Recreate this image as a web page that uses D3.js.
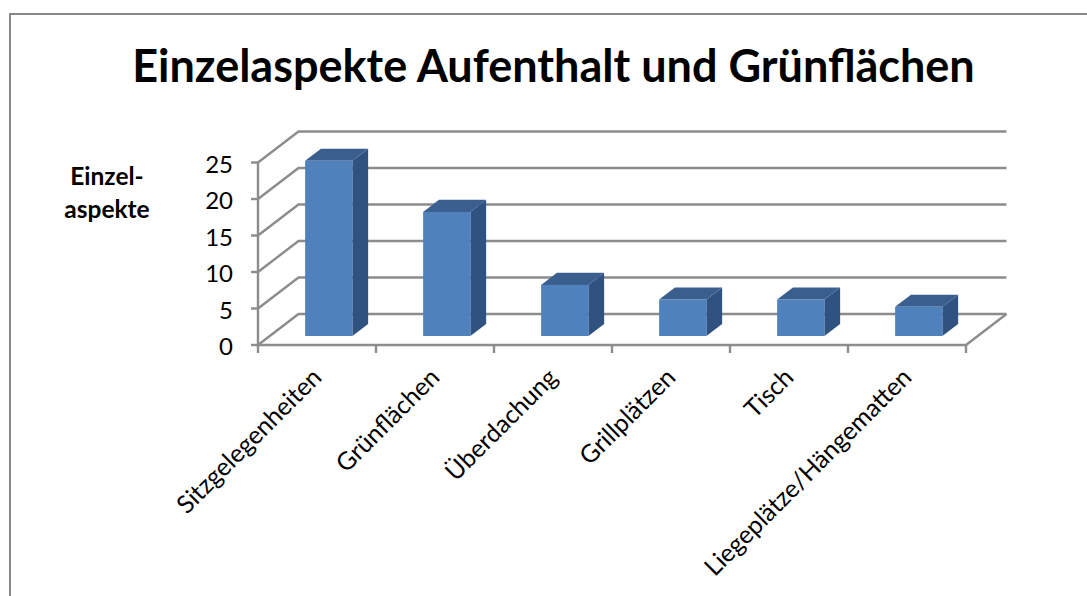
<!DOCTYPE html>
<html><head><meta charset="utf-8">
<script src="https://cdn.jsdelivr.net/npm/d3@7"></script>
<style>html,body{margin:0;padding:0;background:#fff}svg{display:block}text{font-family:Lato,"Open Sans",sans-serif}</style>
</head><body><svg id="c" width="1087" height="596"></svg>
<script>
const categories = ["Sitzgelegenheiten","Grünflächen","Überdachung","Grillplätzen","Tisch","Liegeplätze/Hängematten"];
const values = [24,17,7,5,5,4];
const yTicks = [0,5,10,15,20,25];
const titleText = "Einzelaspekte Aufenthalt und Grünflächen";
const axisTitleLines = ["Einzel-","aspekte"];

const svg = d3.select("#c");
const axisColor = "#8c8c8c";
const x = d3.scaleBand().domain(categories).range([258,966]).paddingInner(0.6).paddingOuter(0.3);
const xEdge = d3.scaleLinear().domain([0,categories.length]).range([258,966]);
const y = d3.scaleLinear().domain([0,25]).range([345,162.5]);
// depth: 0 = front of floor, 1 = back wall
const dx = d3.scaleLinear().domain([0,1]).range([0,40.5]);
const dy = d3.scaleLinear().domain([0,1]).range([0,-31]);
const barNear = 0.29, barFar = 0.68;

svg.append("path").attr("d","M10,596V14H1087").attr("fill","none").attr("stroke","#888").attr("stroke-width",2);

svg.append("text").attr("x",553.5).attr("y",82).attr("text-anchor","middle")
  .attr("font-size",45).attr("font-weight",700).attr("fill","#000").text(titleText);

const grid = svg.append("g").attr("fill","none").attr("stroke",axisColor).attr("stroke-width",2.4);
yTicks.forEach(t=>{
  const line = d3.line();
  grid.append("path").attr("d",line([
    [x.range()[0],y(t)],
    [x.range()[0]+dx(1),y(t)+dy(1)],
    [x.range()[1]+dx(1),y(t)+dy(1)]
  ]));
  grid.append("path").attr("d",line([[x.range()[0]-7,y(t)],[x.range()[0],y(t)]]));
});
grid.append("path").attr("d",d3.line()([[258,y(25)],[258,y(0)],[966,y(0)],[966+dx(1),y(0)+dy(1)]]));
d3.range(categories.length+1).forEach(i=>{
  grid.append("path").attr("d",d3.line()([[xEdge(i),y(0)],[xEdge(i),y(0)+8]]));
});

const bars = svg.append("g").selectAll("g").data(categories.map((c,i)=>({c,v:values[i]}))).join("g");
const shift = dx(barNear), rise = dy(barNear);
const ddx = dx(barFar)-dx(barNear), ddy = dy(barFar)-dy(barNear);
bars.each(function(d){
  const g = d3.select(this);
  const l = x(d.c)+shift, r = l+x.bandwidth(), b = y(0)+rise, t = y(d.v)+rise;
  g.append("path").attr("fill","#2f5280").attr("d",d3.line()([[r,t],[r+ddx,t+ddy],[r+ddx,b+ddy],[r,b]]));
  g.append("path").attr("fill","#3a5f8e").attr("d",d3.line()([[l,t],[l+ddx,t+ddy],[r+ddx,t+ddy],[r,t]]));
  g.append("rect").attr("x",l).attr("y",t).attr("width",r-l).attr("height",b-t).attr("fill","#4f81bd");
});

svg.append("g").selectAll("text").data(yTicks).join("text")
  .attr("x",233).attr("y",d=>y(d)+10).attr("text-anchor","end").attr("font-size",24).attr("fill","#000").text(d=>d);

svg.append("g").selectAll("text").data(categories).join("text")
  .attr("text-anchor","end").attr("font-size",24.8).attr("fill","#000")
  .attr("transform",d=>`translate(${x(d)+x.bandwidth()/2+6},${y(0)+34}) rotate(-45)`).text(d=>d);

svg.append("g").selectAll("text").data(axisTitleLines).join("text")
  .attr("x",107).attr("y",(d,i)=>185+i*33).attr("text-anchor","middle")
  .attr("font-size",24.5).attr("font-weight",700).attr("fill","#000").text(d=>d);
</script></body></html>
